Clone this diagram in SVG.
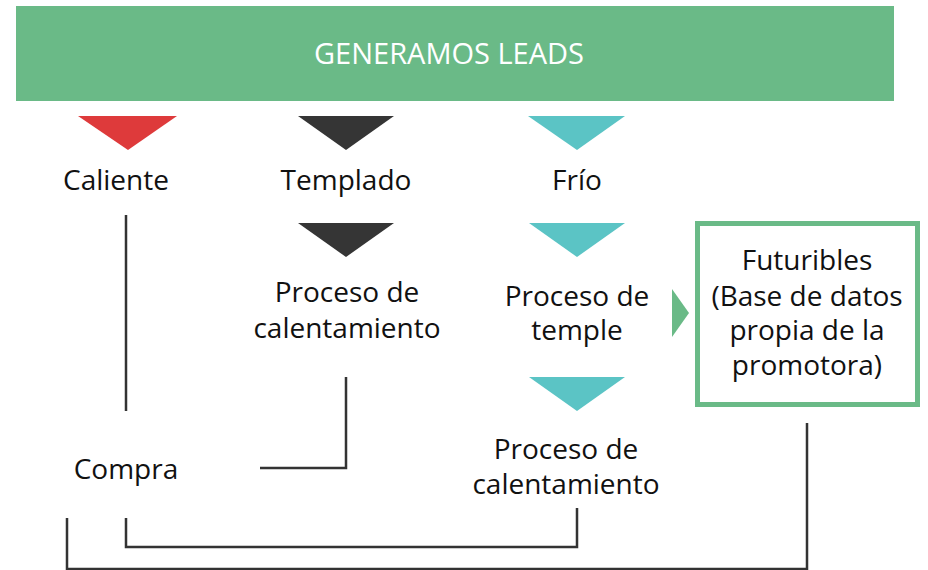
<svg xmlns="http://www.w3.org/2000/svg" width="928" height="570" viewBox="0 0 928 570">
<style>
  .t { font-family: "Open Sans", "Liberation Sans", sans-serif; font-size: 28px; fill: #111; text-anchor: middle; }
  .hd { font-family: "Open Sans", "Liberation Sans", sans-serif; font-size: 29px; fill: #ffffff; text-anchor: middle; }
  .ln { fill: none; stroke: #333333; stroke-width: 2.5; }
</style>
<rect width="928" height="570" fill="#ffffff"/>
<g id="banner">
  <rect x="16" y="6" width="878" height="95" fill="#6aba87"/>
  <text class="hd" x="449" y="64">GENERAMOS LEADS</text>
</g>
<g id="caliente">
  <polygon points="78,116 177,116 128,150" fill="#de3a3b"/>
  <text class="t" x="116" y="190">Caliente</text>
</g>
<g id="templado">
  <polygon points="298,116 394,116 346,150" fill="#353535"/>
  <text class="t" x="346" y="190">Templado</text>
</g>
<g id="frio">
  <polygon points="528,116 625,116 577,150" fill="#5bc4c5"/>
  <text class="t" x="577" y="190">Frío</text>
</g>
<g id="calentamiento1">
  <polygon points="298,223 394,223 346,257" fill="#353535"/>
  <text class="t" x="347" y="302">Proceso de</text>
  <text class="t" x="347" y="338">calentamiento</text>
</g>
<g id="temple">
  <polygon points="529,223 625,223 577,257" fill="#5bc4c5"/>
  <text class="t" x="577" y="306">Proceso de</text>
  <text class="t" x="577" y="340">temple</text>
</g>
<g id="calentamiento2">
  <polygon points="529,377 625,377 577,411" fill="#5bc4c5"/>
  <text class="t" x="566" y="459">Proceso de</text>
  <text class="t" x="566" y="494">calentamiento</text>
</g>
<g id="futuribles">
  <polygon points="672,289 689,313 672,337" fill="#6aba87"/>
  <rect x="697.5" y="223.5" width="220" height="181" fill="#ffffff" stroke="#6aba87" stroke-width="5"/>
  <text class="t" x="807" y="270">Futuribles</text>
  <text class="t" x="807" y="306">(Base de datos</text>
  <text class="t" x="807" y="340">propia de la</text>
  <text class="t" x="807" y="375">promotora)</text>
</g>
<g id="compra">
  <text class="t" x="126" y="479">Compra</text>
</g>
<g id="connectors">
  <line class="ln" x1="126" y1="215" x2="126" y2="411"/>
  <polyline class="ln" points="346,377 346,468 260,468"/>
  <polyline class="ln" points="126,518 126,547 577,547 577,508"/>
  <polyline class="ln" points="67,518 67,569 807,569 807,423"/>
</g>
</svg>
